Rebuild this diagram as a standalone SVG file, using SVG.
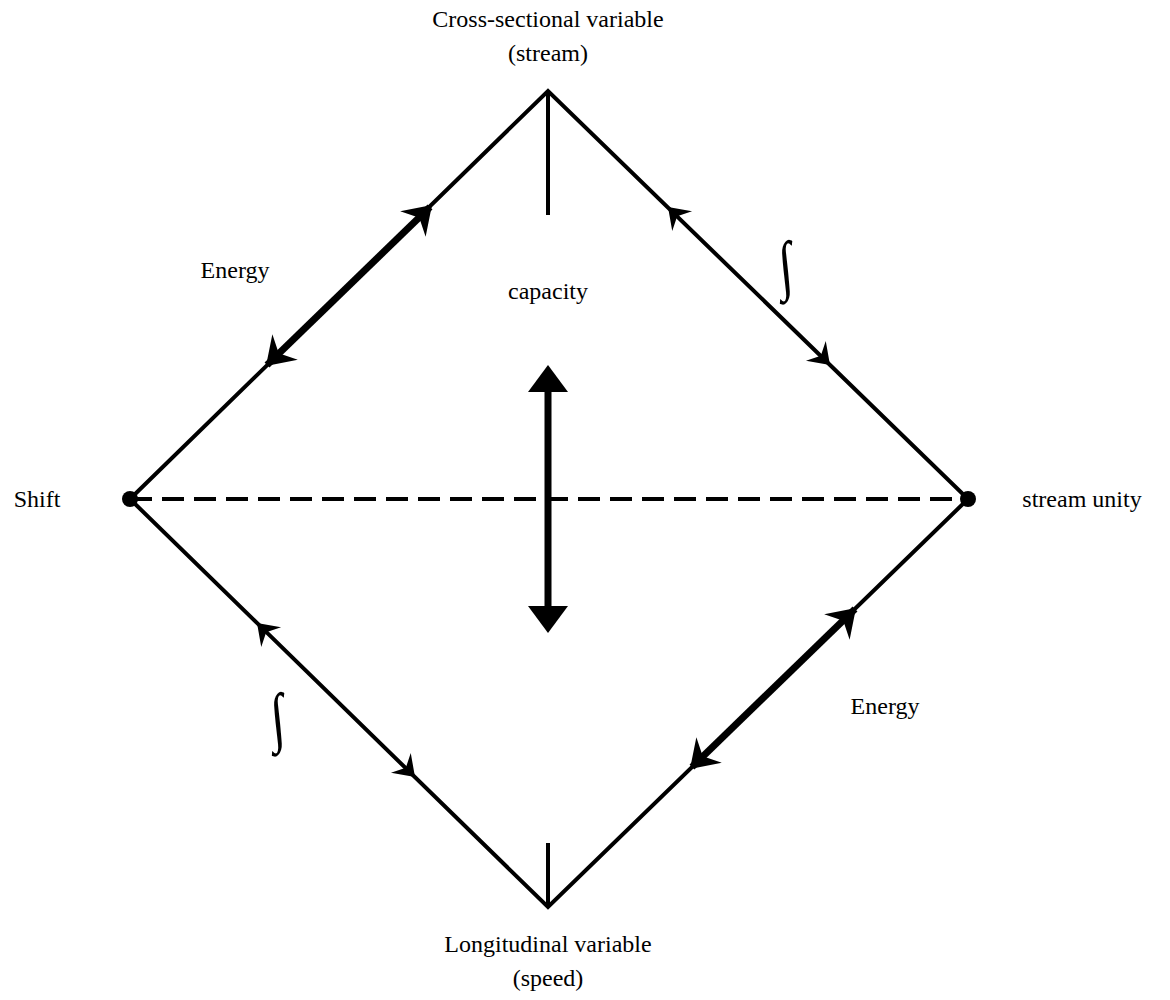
<svg xmlns="http://www.w3.org/2000/svg" xmlns:xlink="http://www.w3.org/1999/xlink" width="1170" height="1000" viewBox="0 0 1170 1000">
<style>
.t{font-family:"Liberation Serif","Times New Roman",serif;font-size:24px;fill:#000;text-anchor:middle}
.int{font-family:"Liberation Serif",serif;font-size:56px;fill:#000;text-anchor:middle}
.e{stroke:#000;stroke-width:4;fill:none}
.th{stroke:#000;stroke-width:7;fill:none}
</style>
<defs>
<path id="hs" d="M0,0 L-20,-14 L-13,0 L-20,14 Z" fill="#000"/>
<path id="hb" d="M0,0 L-27,-18 L-18,0 L-27,18 Z" fill="#000"/>
</defs>
<rect width="1170" height="1000" fill="#fff"/>
<g id="connectors">
<polyline class="e" points="130,499 548,91 968,499 548,907 130,499"/>
<line class="th" x1="267" y1="365" x2="430" y2="207"/>
<line class="th" x1="855" y1="609" x2="692" y2="767"/>
<line class="e" x1="548" y1="91" x2="548" y2="215"/>
<line class="e" x1="548" y1="843" x2="548" y2="907"/>
<line stroke="#000" stroke-width="4" stroke-dasharray="22 10" x1="130" y1="499" x2="968" y2="499"/>
<line stroke="#000" stroke-width="7" x1="548" y1="385" x2="548" y2="612"/>
<polygon points="548,365 528,392 568,392" fill="#000"/>
<polygon points="548,633 528,606 568,606" fill="#000"/>
<use xlink:href="#hb" transform="translate(432,205) rotate(-45)"/>
<use xlink:href="#hb" transform="translate(266,366) rotate(135)"/>
<use xlink:href="#hs" transform="translate(668,207) rotate(-135)"/>
<use xlink:href="#hs" transform="translate(830,365) rotate(45)"/>
<use xlink:href="#hs" transform="translate(257,623) rotate(-135)"/>
<use xlink:href="#hs" transform="translate(415,777) rotate(45)"/>
<use xlink:href="#hb" transform="translate(856,608) rotate(-45)"/>
<use xlink:href="#hb" transform="translate(690,769) rotate(135)"/>
</g>
<g id="n-left"><circle cx="130" cy="499" r="8" fill="#000"/><text class="t" x="37" y="507">Shift</text></g>
<g id="n-right"><circle cx="968" cy="499" r="8" fill="#000"/><text class="t" x="1082" y="507">stream unity</text></g>
<g id="n-top"><text class="t" x="548" y="27">Cross-sectional variable</text><text class="t" x="548" y="61">(stream)</text></g>
<g id="n-bottom"><text class="t" x="548" y="952">Longitudinal variable</text><text class="t" x="548" y="986">(speed)</text></g>
<g id="labels">
<text class="t" x="235" y="278">Energy</text>
<text class="t" x="548" y="299">capacity</text>
<text class="t" x="885" y="714">Energy</text>
<text class="int" x="0" y="14" transform="translate(786,270) skewX(6) scale(0.9,1.18)">∫</text>
<text class="int" x="0" y="14" transform="translate(278,722) skewX(6) scale(0.9,1.18)">∫</text>
</g>
</svg>
